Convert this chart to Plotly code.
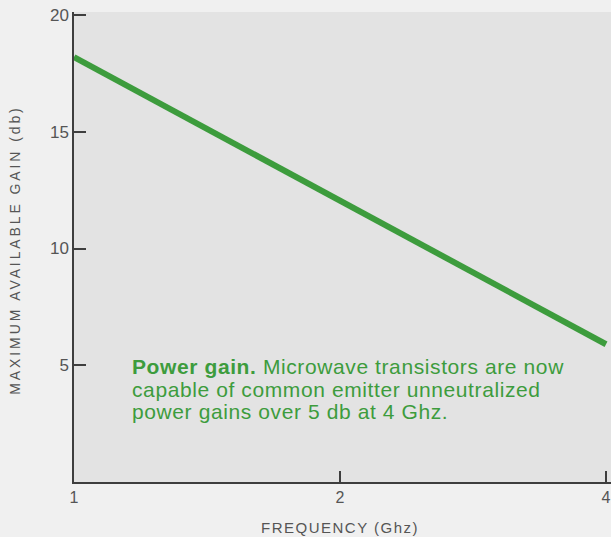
import plotly.graph_objects as go

# Maximum available gain of a microwave transistor versus frequency
freq_ghz = [1, 4]
gain_db = [18.2, 5.9]

x_tick_vals = [1, 2, 4]
x_tick_text = ["1", "2", "4"]
y_tick_vals = [5, 10, 15, 20]
y_tick_text = ["5", "10", "15", "20"]

caption_lines = [
    "<b>Power gain.</b> Microwave transistors are now",
    "capable of common emitter unneutralized",
    "power gains over 5 db at 4 Ghz.",
]

GREEN = "#3d9c3d"
INK = "#555555"
AXIS = "#3e3e3e"

fig = go.Figure()
fig.add_trace(go.Scatter(
    x=freq_ghz, y=gain_db, mode="lines",
    line=dict(color=GREEN, width=6),
    showlegend=False, hoverinfo="skip",
))

fig.update_layout(
    width=611, height=537,
    margin=dict(l=74, r=0, t=12, b=55),
    paper_bgcolor="#f0f0f0",
    plot_bgcolor="#e3e3e3",
    font=dict(family="Liberation Sans, Arial, sans-serif", color=INK),
)

fig.update_xaxes(
    type="log", range=[0, 0.6077],
    tickvals=x_tick_vals, ticktext=x_tick_text,
    ticks="inside", ticklen=11, tickwidth=1.5, tickcolor=AXIS,
    showline=True, linecolor=AXIS, linewidth=1.5,
    showgrid=False, zeroline=False,
    tickfont=dict(size=16, color=INK),
)
fig.update_yaxes(
    range=[0, 20.13],
    tickvals=y_tick_vals, ticktext=y_tick_text,
    ticks="inside", ticklen=12, tickwidth=1.5, tickcolor=AXIS,
    showline=True, linecolor=AXIS, linewidth=1.5,
    showgrid=False, zeroline=False,
    tickfont=dict(size=17, color=INK),
)

# Axis titles, spaced out in capitals
fig.add_annotation(
    text='<span style="letter-spacing:1.5px">FREQUENCY (Ghz)</span>',
    xref="paper", yref="paper", x=0.495, y=-0.096,
    xanchor="center", yanchor="middle", showarrow=False,
    font=dict(size=15, color=INK),
)
fig.add_annotation(
    text='<span style="letter-spacing:2.9px">MAXIMUM AVAILABLE GAIN (db)</span>',
    xref="paper", yref="paper", x=-0.11, y=0.494,
    xanchor="center", yanchor="middle", textangle=-90, showarrow=False,
    font=dict(size=14, color=INK),
)

# Caption inside the plot, one annotation per line for tight leading
caption_y = [0.245, 0.197, 0.149]
for line, yy in zip(caption_lines, caption_y):
    fig.add_annotation(
        text='<span style="letter-spacing:0.6px">' + line + "</span>",
        xref="paper", yref="paper", x=0.104, y=yy,
        xanchor="left", yanchor="middle", align="left", showarrow=False,
        font=dict(size=21, color=GREEN),
    )

fig.write_html("out.html")
